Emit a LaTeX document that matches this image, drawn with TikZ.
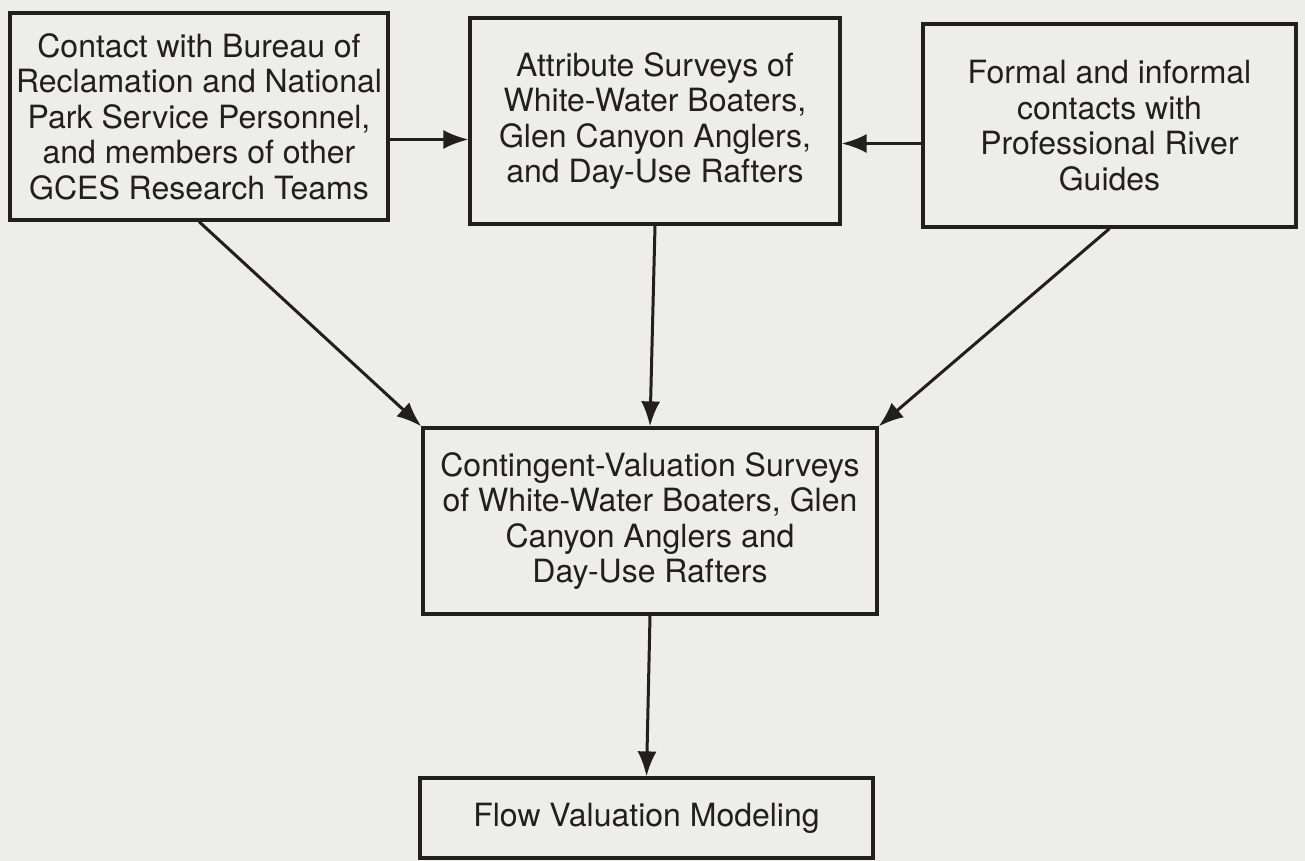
\documentclass[tikz,border=0pt]{standalone}
\usepackage{fontspec}
\setmainfont{TeX Gyre Heros}
\usepackage{xcolor}
\usepackage{tikz}
\usetikzlibrary{arrows.meta,positioning,calc}
\definecolor{fvpaper}{HTML}{EDEDEA}
\definecolor{fvink}{HTML}{231F1C}
\tikzset{
  fvbox/.style={draw=fvink, line width=3.2pt, text=fvink, align=center, inner sep=6pt,
    font=\fontsize{32}{35.5}\selectfont},
  fvline/.style={-{Latex[length=25pt,width=19pt]}, draw=fvink, line width=3pt}
}
\begin{document}
\begin{tikzpicture}[x=1pt, y=1pt]
  \fill[fvpaper] (0,0) rectangle (1305,-861);
  \useasboundingbox (0,0) rectangle (1305,-861);
  % top row
  \node[fvbox, minimum width=378pt, minimum height=207pt] (contact) at (199,-116.5)
    {Contact with Bureau of\\Reclamation and National\\Park Service Personnel,\\and members of other\\GCES Research Teams};
  \node[fvbox, minimum width=370pt, minimum height=206pt] (attrib) at (655,-121)
    {Attribute Surveys of\\White-Water Boaters,\\Glen Canyon Anglers,\\and Day-Use Rafters};
  \node[fvbox, minimum width=373pt, minimum height=203pt] (guides) at (1109.5,-125.5)
    {Formal and informal\\contacts with\\Professional River\\Guides};
  % lower boxes
  \node[fvbox, minimum width=454pt, minimum height=186pt] (cvsurvey) at (650,-521)
    {Contingent-Valuation Surveys\\of White-Water Boaters, Glen\\Canyon Anglers and\\Day-Use Rafters};
  \node[fvbox, minimum width=453pt, minimum height=80pt] (flowmodel) at (646.5,-818)
    {Flow Valuation Modeling};
  % connectors
  \draw[fvline] ([yshift=-23pt]contact.east) -- ([yshift=-23pt]contact.east -| attrib.west);
  \draw[fvline] ([yshift=-18pt]guides.west) -- ([yshift=-18pt]guides.west -| attrib.east);
  \draw[fvline] (contact.south) -- (cvsurvey.north west);
  \draw[fvline] (attrib.south) -- (cvsurvey.north);
  \draw[fvline] (guides.south) -- (cvsurvey.north east);
  \draw[fvline] (cvsurvey.south) -- (flowmodel.north);
\end{tikzpicture}
\end{document}
